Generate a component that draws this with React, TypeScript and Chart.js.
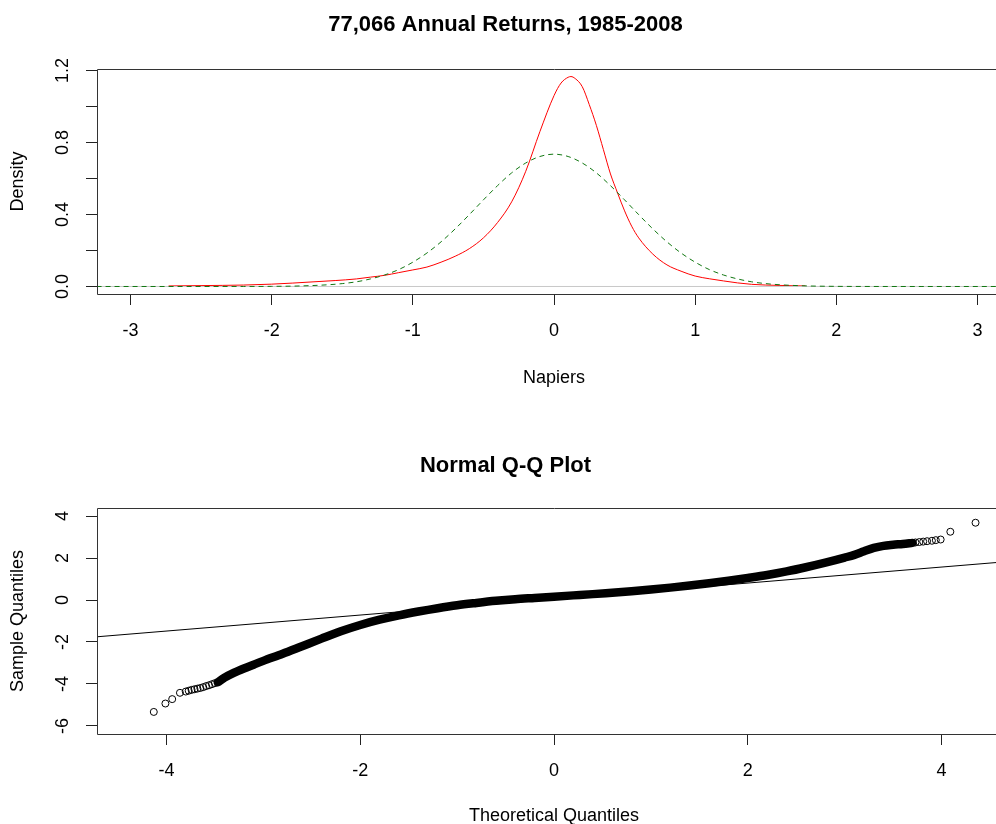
import React, { useEffect, useRef } from 'react';
import { Chart, registerables } from 'chart.js';

Chart.register(...registerables);

const FONT = '"Liberation Sans", Arial, Helvetica, sans-serif';

// ---------- Top panel: density ----------
const densityTitle = '77,066 Annual Returns, 1985-2008';
const densityX = [-2.73, -2.5, -2.2, -2.0, -1.85, -1.7, -1.55, -1.4, -1.3, -1.2, -1.1, -1.0, -0.9, -0.8, -0.7, -0.6, -0.5, -0.4, -0.3, -0.2, -0.1, 0.0, 0.05, 0.1, 0.12, 0.15, 0.2, 0.25, 0.3, 0.35, 0.4, 0.45, 0.5, 0.55, 0.6, 0.7, 0.8, 0.9, 1.0, 1.1, 1.2, 1.3, 1.4, 1.5, 1.6, 1.7, 1.78];
const densityY = [0.003, 0.005, 0.008, 0.013, 0.019, 0.026, 0.033, 0.042, 0.052, 0.062, 0.077, 0.092, 0.108, 0.135, 0.168, 0.210, 0.270, 0.355, 0.470, 0.640, 0.860, 1.060, 1.130, 1.162, 1.166, 1.155, 1.110, 1.010, 0.895, 0.760, 0.625, 0.520, 0.420, 0.335, 0.270, 0.180, 0.120, 0.085, 0.058, 0.043, 0.031, 0.020, 0.012, 0.008, 0.006, 0.004, 0.003];
const normalX = [-3.24, -2.6, -2.2, -2.0, -1.8, -1.6, -1.5, -1.4, -1.3, -1.2, -1.1, -1.0, -0.9, -0.8, -0.7, -0.6, -0.5, -0.4, -0.3, -0.2, -0.1, 0, 0.1, 0.2, 0.3, 0.4, 0.5, 0.6, 0.7, 0.8, 0.9, 1.0, 1.1, 1.2, 1.3, 1.4, 1.5, 1.6, 1.8, 2.0, 2.2, 2.6, 3.24];
const normalY = [0, 0, 0.0002, 0.0008, 0.0030, 0.0096, 0.016, 0.026, 0.042, 0.064, 0.094, 0.135, 0.186, 0.248, 0.320, 0.399, 0.481, 0.560, 0.631, 0.686, 0.722, 0.735, 0.722, 0.686, 0.631, 0.560, 0.481, 0.399, 0.320, 0.248, 0.186, 0.135, 0.094, 0.064, 0.042, 0.026, 0.016, 0.0096, 0.0030, 0.0008, 0.0002, 0, 0];
const densityXRange = [-3.237, 3.237];
const densityYRange = [-0.0417, 1.208];
const densityXTicks = [-3, -2, -1, 0, 1, 2, 3];
const densityYTicks = [0, 0.2, 0.4, 0.6, 0.8, 1.0, 1.2];
const densityYLabelValues = [0, 0.4, 0.8, 1.2];
const densityYLabels = ['0.0', '0.4', '0.8', '1.2'];

// ---------- Bottom panel: normal Q-Q ----------
const qqTitle = 'Normal Q-Q Plot';
const qqBandX = [-3.47, -3.40, -3.30, -3.20, -3.10, -3.00, -2.80, -2.60, -2.40, -2.20, -2.00, -1.80, -1.60, -1.40, -1.20, -1.00, -0.80, -0.60, -0.40, -0.20, 0.00, 0.20, 0.40, 0.60, 0.80, 1.00, 1.20, 1.40, 1.60, 1.80, 2.00, 2.20, 2.40, 2.60, 2.80, 3.00, 3.10, 3.20, 3.30, 3.40, 3.50, 3.60, 3.70];
const qqBandY = [-3.92, -3.70, -3.46, -3.26, -3.08, -2.90, -2.56, -2.20, -1.84, -1.49, -1.19, -0.94, -0.73, -0.55, -0.39, -0.25, -0.14, -0.04, 0.04, 0.10, 0.16, 0.22, 0.28, 0.35, 0.42, 0.50, 0.59, 0.69, 0.80, 0.92, 1.05, 1.19, 1.36, 1.56, 1.78, 2.02, 2.15, 2.32, 2.48, 2.58, 2.63, 2.67, 2.72];
const qqTailX = [-4.13, -4.01, -3.94, -3.86, -3.80, -3.77, -3.74, -3.71, -3.68, -3.65, -3.62, -3.59, -3.56, -3.53, -3.50, 3.73, 3.77, 3.81, 3.85, 3.90, 3.94, 3.99, 4.09, 4.35];
const qqTailY = [-5.33, -4.93, -4.72, -4.42, -4.36, -4.32, -4.28, -4.25, -4.22, -4.19, -4.15, -4.10, -4.06, -4.01, -3.96, 2.74, 2.76, 2.78, 2.80, 2.82, 2.85, 2.88, 3.25, 3.68];
const qqLineX = [-4.716, 4.716];
const qqLineY = [-1.752, 1.842];
const qqXRange = [-4.716, 4.716];
const qqYRange = [-6.381, 4.381];
const qqXTicks = [-4, -2, 0, 2, 4];
const qqYTicks = [-6, -4, -2, 0, 2, 4];
const qqYLabels = ['-6', '-4', '-2', '0', '2', '4'];

const pts = (xs: number[], ys: number[]) => xs.map((x, i) => ({ x, y: ys[i] }));

const rFrame = {
  id: 'rFrame',
  afterDraw(chart: any, _args: any, opts: any) {
    const { ctx, chartArea: a } = chart;
    ctx.save();
    ctx.strokeStyle = '#333';
    ctx.lineWidth = 1;
    const l = Math.round(a.left) + 0.5;
    const t = Math.round(a.top) + 0.5;
    const r = Math.round(a.right) + 0.5;
    const b = Math.round(a.bottom) + 0.5;
    ctx.beginPath();
    ctx.moveTo(l, t);
    ctx.lineTo(r, t);
    ctx.lineTo(r, b);
    ctx.lineTo(l, b);
    ctx.closePath();
    ctx.stroke();
    const ys = chart.scales.y;
    ctx.fillStyle = '#000';
    ctx.font = '18px ' + FONT;
    ctx.textAlign = 'center';
    ctx.textBaseline = 'middle';
    (opts.values as number[]).forEach((v, i) => {
      const py = ys.getPixelForValue(v);
      ctx.save();
      ctx.translate(opts.x, py);
      ctx.rotate(-Math.PI / 2);
      ctx.fillText(opts.labels[i], 0, 0);
      ctx.restore();
    });
    ctx.restore();
  },
};

function makeConfig(p: {
  title: string; titlePad: { top: number; bottom: number };
  xRange: number[]; yRange: number[]; xTicks: number[]; yTicks: number[];
  xTitle: string; yTitle: string; xScaleHeight: number; xTickPad: number; xTitlePad: number;
  labelValues: number[]; labels: string[]; datasets: any[];
}): any {
  const grid = { display: true, drawOnChartArea: false, drawTicks: true, tickLength: 11, color: '#222', lineWidth: 1 };
  return {
    type: 'scatter',
    data: { datasets: p.datasets },
    plugins: [rFrame],
    options: {
      responsive: false,
      animation: false,
      devicePixelRatio: 1,
      layout: { padding: { left: 0, right: 29, top: 0, bottom: 0 } },
      plugins: {
        legend: { display: false },
        tooltip: { enabled: false },
        title: {
          display: true, text: p.title, color: '#000',
          font: { family: FONT, size: 22, weight: 'bold' },
          padding: p.titlePad,
        },
        rFrame: { x: 63, values: p.labelValues, labels: p.labels },
      },
      scales: {
        x: {
          type: 'linear', min: p.xRange[0], max: p.xRange[1],
          afterBuildTicks: (s: any) => { s.ticks = p.xTicks.map((value) => ({ value })); },
          afterFit: (s: any) => { s.height = p.xScaleHeight; },
          grid, border: { display: false },
          ticks: { color: '#000', font: { family: FONT, size: 18 }, padding: p.xTickPad, maxRotation: 0, autoSkip: false, callback: (v: any) => String(v) },
          title: { display: true, text: p.xTitle, color: '#000', font: { family: FONT, size: 18 }, padding: { top: 0, bottom: p.xTitlePad } },
        },
        y: {
          type: 'linear', min: p.yRange[0], max: p.yRange[1],
          afterBuildTicks: (s: any) => { s.ticks = p.yTicks.map((value) => ({ value })); },
          afterFit: (s: any) => { s.width = 97; },
          grid, border: { display: false },
          ticks: { display: false },
          title: { display: true, text: p.yTitle, color: '#000', font: { family: FONT, size: 18 }, padding: { top: 7.2, bottom: 0 } },
        },
      },
    },
  };
}

export default function App() {
  const topRef = useRef<HTMLCanvasElement>(null);
  const botRef = useRef<HTMLCanvasElement>(null);

  useEffect(() => {
    const top = new Chart(topRef.current as HTMLCanvasElement, makeConfig({
      title: densityTitle, titlePad: { top: 12, bottom: 30.6 },
      xRange: densityXRange, yRange: densityYRange, xTicks: densityXTicks, yTicks: densityYTicks,
      xTitle: 'Napiers', yTitle: 'Density', xScaleHeight: 118, xTickPad: 15.5, xTitlePad: 23.5,
      labelValues: densityYLabelValues, labels: densityYLabels,
      datasets: [
        { data: pts(normalX, normalY), showLine: true, borderColor: '#117711', borderWidth: 1, borderDash: [5, 4], pointRadius: 0, cubicInterpolationMode: 'monotone' },
        { data: pts(densityXRange, [0, 0]), showLine: true, borderColor: '#c8c8c8', borderWidth: 1, pointRadius: 0 },
        { data: pts(densityX, densityY), showLine: true, borderColor: '#ff0000', borderWidth: 1, pointRadius: 0, cubicInterpolationMode: 'monotone' },
      ],
    }));
    const bot = new Chart(botRef.current as HTMLCanvasElement, makeConfig({
      title: qqTitle, titlePad: { top: 40.8, bottom: 28.8 },
      xRange: qqXRange, yRange: qqYRange, xTicks: qqXTicks, yTicks: qqYTicks,
      xTitle: 'Theoretical Quantiles', yTitle: 'Sample Quantiles', xScaleHeight: 98, xTickPad: 14.9, xTitlePad: 5.5,
      labelValues: qqYTicks, labels: qqYLabels,
      datasets: [
        { data: pts(qqLineX, qqLineY), showLine: true, borderColor: '#000', borderWidth: 1, pointRadius: 0 },
        { data: pts(qqBandX, qqBandY), showLine: true, borderColor: '#000', borderWidth: 8.5, borderCapStyle: 'round', pointRadius: 0, cubicInterpolationMode: 'monotone' },
        { data: pts(qqTailX, qqTailY), showLine: false, pointRadius: 3.5, pointBorderWidth: 1, pointBorderColor: '#000', pointBackgroundColor: 'rgba(0,0,0,0)' },
      ],
    }));
    return () => { top.destroy(); bot.destroy(); };
  }, []);

  return (
    <div style={{ position: 'fixed', left: 0, top: 0, width: 996, height: 824, overflow: 'hidden', background: '#fff' }}>
      <canvas ref={topRef} width={1040} height={412} style={{ position: 'absolute', left: 0, top: 0, width: 1040, height: 412 }} />
      <canvas ref={botRef} width={1040} height={420} style={{ position: 'absolute', left: 0, top: 412, width: 1040, height: 420 }} />
    </div>
  );
}
